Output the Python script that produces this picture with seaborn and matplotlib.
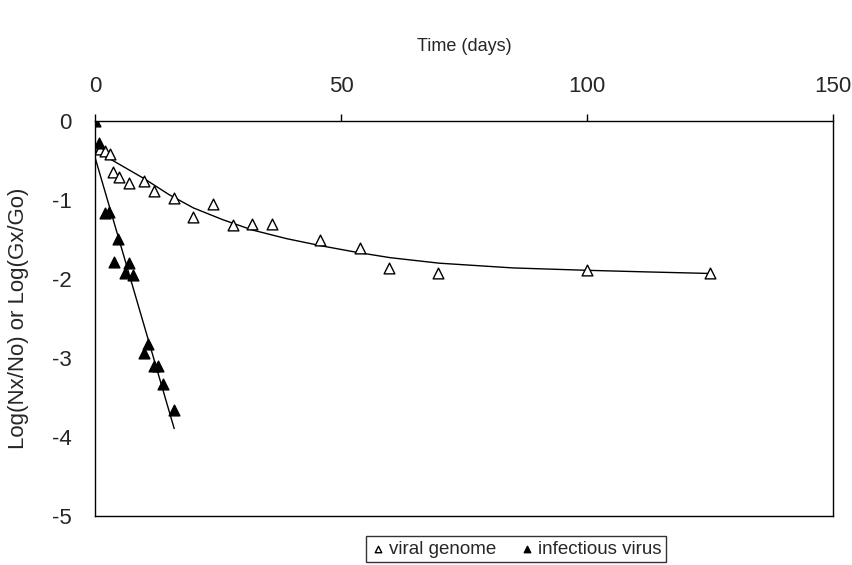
import numpy as np
import pandas as pd
import matplotlib
matplotlib.use("Agg")
import matplotlib.pyplot as plt
import seaborn as sns

# ---- data ----
genome_days = [1, 2, 3, 3.7, 4.9, 6.9, 10, 12, 16, 20, 24, 28, 32, 36, 45.7, 53.9, 59.8, 69.8, 99.9, 124.9]
genome_log = [-0.35, -0.38, -0.42, -0.65, -0.71, -0.78, -0.76, -0.88, -0.97, -1.21, -1.05,
              -1.32, -1.30, -1.30, -1.50, -1.61, -1.86, -1.92, -1.89, -1.93]

virus_days = [0, 0.8, 2.0, 2.9, 3.9, 4.7, 6.0, 6.9, 7.8, 10.0, 10.8, 12.0, 12.9, 13.9, 16.1]
virus_log = [0, -0.28, -1.17, -1.15, -1.78, -1.49, -1.93, -1.80, -1.95, -2.94, -2.82,
             -3.10, -3.10, -3.33, -3.66]

# fitted decay curve for the viral genome
genome_fit_days = [0, 5, 10, 15, 20, 26, 32, 39, 46, 53, 60, 70, 85, 100, 112, 125]
genome_fit_log = [-0.37, -0.55, -0.73, -0.93, -1.10, -1.25, -1.38, -1.49, -1.58, -1.66,
                  -1.73, -1.80, -1.86, -1.89, -1.91, -1.93]

x_ticks = [0, 50, 100, 150]
y_ticks = [0, -1, -2, -3, -4, -5]

sns.set_theme(style="white")
plt.rcParams['font.family'] = ['Liberation Sans', 'DejaVu Sans']
plt.rcParams['axes.unicode_minus'] = False

W, H = 852, 565
fig = plt.figure(figsize=(W / 100, H / 100), dpi=100)
ax = fig.add_axes([95 / W, 1 - 516 / H, (833 - 95) / W, (516 - 121) / H])

sns.lineplot(x=genome_fit_days, y=genome_fit_log, color="black", linewidth=1.0, ax=ax,
             legend=False)
sns.regplot(x=np.array(virus_days), y=np.array(virus_log), scatter=False, ci=None,
            truncate=True, line_kws=dict(color="black", linewidth=1.0), ax=ax)

sns.scatterplot(x=genome_days, y=genome_log, marker="^", s=60, facecolor="white",
                edgecolor="black", linewidth=1.0, ax=ax, label="viral genome", zorder=3)
sns.scatterplot(x=virus_days, y=virus_log, marker="^", s=60, color="black",
                edgecolor="black", linewidth=1.0, ax=ax, label="infectious virus", zorder=3)

ax.set_xlim(0, 150)
ax.set_ylim(-5, 0)
ax.set_xticks(x_ticks)
ax.set_yticks(y_ticks)
ax.xaxis.tick_top()
ax.xaxis.set_label_position("top")
ax.set_xlabel("Time (days)", fontsize=13, labelpad=18)
ax.set_ylabel("Log(Nx/No) or Log(Gx/Go)", fontsize=16, labelpad=16)
ax.tick_params(axis="x", which="major", direction="out", length=5, width=1,
               color="black", labelsize=16, pad=12)
ax.tick_params(axis="y", which="major", direction="out", length=6, width=1,
               color="black", labelsize=16, pad=11)
for sp in ax.spines.values():
    sp.set_color("black")
    sp.set_linewidth(1.0)

leg = ax.legend(loc="center", bbox_to_anchor=(516 / W, 1 - 549 / H),
                bbox_transform=fig.transFigure, ncol=2, frameon=True, fontsize=13.5,
                markerscale=0.6, handletextpad=0.2, columnspacing=1.2,
                borderpad=0.25, fancybox=False, handlelength=0.8)
leg.get_frame().set_edgecolor("black")
leg.get_frame().set_linewidth(1.0)

fig.savefig("out.png", dpi=100, facecolor="white")
